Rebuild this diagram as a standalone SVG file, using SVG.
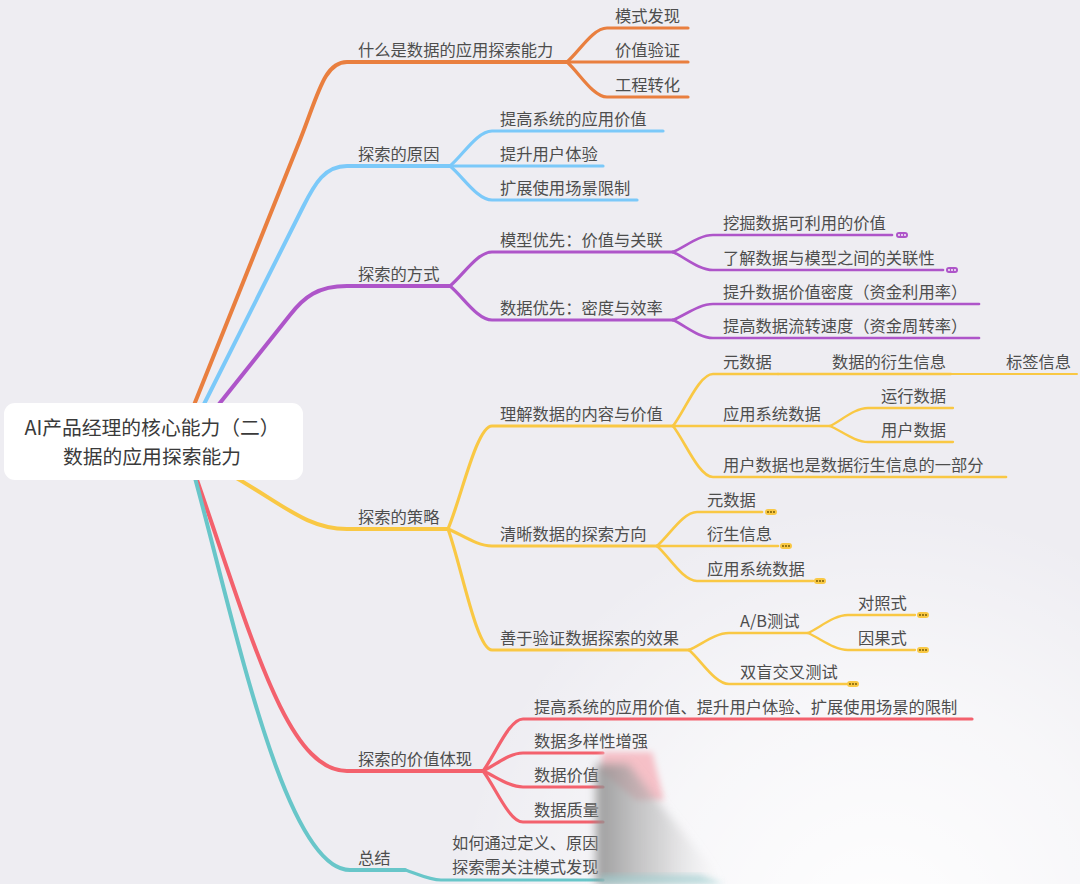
<svg xmlns="http://www.w3.org/2000/svg" width="1080" height="884" viewBox="0 0 1080 884">
<defs>
<style>
.t{font-family:"Noto Sans CJK SC","Noto Sans",sans-serif;font-size:16.3px;fill:#4d4d4d}
.rt{font-family:"Noto Sans CJK SC","Noto Sans",sans-serif;font-size:19.8px;fill:#3a3a3a;text-anchor:middle}
.c{fill:none;stroke-linecap:round;stroke-linejoin:round}
.l1{stroke-width:4}
.l2{stroke-width:3.2}
.l3{stroke-width:2.7}
.l4{stroke-width:2.3}
.l5{stroke-width:2}
.o{stroke:#E97F3F}.b{stroke:#7BC9F9}.p{stroke:#AE55C9}.y{stroke:#F9C844}.r{stroke:#F3616D}.g{stroke:#68C6C9}
.pp{fill:#AE55C9}.yp{fill:#F9C844}
.pd{fill:#ffffff}.yd{fill:#6b5200}
</style>
<radialGradient id="fade" cx="880" cy="930" r="430" gradientUnits="userSpaceOnUse">
<stop offset="0" stop-color="#ffffff" stop-opacity="0.95"/>
<stop offset="0.55" stop-color="#ffffff" stop-opacity="0.55"/>
<stop offset="1" stop-color="#ffffff" stop-opacity="0"/>
</radialGradient>
<linearGradient id="smudge" x1="598" y1="0" x2="720" y2="0" gradientUnits="userSpaceOnUse">
<stop offset="0" stop-color="#8f8f8f" stop-opacity="0.85"/>
<stop offset="0.5" stop-color="#b0b0b0" stop-opacity="0.5"/>
<stop offset="1" stop-color="#d8d8d8" stop-opacity="0"/>
</linearGradient>
<filter id="blur" x="-30%" y="-30%" width="160%" height="160%"><feGaussianBlur stdDeviation="5"/></filter>
<filter id="blur2" x="-30%" y="-30%" width="160%" height="160%"><feGaussianBlur stdDeviation="3"/></filter>
</defs>
<rect x="0" y="0" width="1080" height="884" fill="#EEEDF2"/>
<rect x="0" y="0" width="1080" height="884" fill="url(#fade)"/>

<g id="connectors">
<path class="c l1 o" d="M184 430 L300 140 C318 95 324 62 347 62 H567"/>
<path class="c l1 b" d="M190 432 L303 207 C315 183 325 166 347 166 H450"/>
<path class="c l1 p" d="M196 433 L290 315 C304 297 318 286 347 286 H450"/>
<path class="c l1 y" d="M203 460 C275 495 300 529 347 529 H448"/>
<path class="c l1 r" d="M190 460 C250 630 285 771 347 771 H483"/>
<path class="c l1 g" d="M190 460 C230 600 282 870 350 870 H405"/>
<path class="c l2 o" d="M567 62 C579 51.8 593 28 607 28 H688"/>
<path class="c l2 o" d="M567 62 H688"/>
<path class="c l2 o" d="M567 62 C579 72.5 593 97 607 97 H688"/>
<path class="c l2 b" d="M450 166 C462.6 155.5 477.3 131 492 131 H663"/>
<path class="c l2 b" d="M450 166 H603"/>
<path class="c l2 b" d="M450 166 C462.6 176.2 477.3 200 492 200 H637"/>
<path class="c l2 p" d="M450 286 C462.6 275.8 477.3 252 492 252 H673"/>
<path class="c l2 p" d="M450 286 C462.6 296.2 477.3 320 492 320 H673"/>
<path class="c l3 p" d="M673 252 C685 246.9 699 235 713 235 H892"/>
<path class="c l3 p" d="M673 252 C685 257.4 699 270 713 270 H943"/>
<path class="c l3 p" d="M673 320 C685 315.2 699 304 713 304 H979"/>
<path class="c l3 p" d="M673 320 C685 325.4 699 338 713 338 H979"/>
<path class="c l2 y" d="M448 529 C461.2 498.1 476.6 426 492 426 H673"/>
<path class="c l2 y" d="M448 529 C461.2 534.1 476.6 546 492 546 H657"/>
<path class="c l2 y" d="M448 529 C461.2 565.3 476.6 650 492 650 H689"/>
<path class="c l3 y" d="M673 426 C685 410.4 699 374 713 374 H778"/>
<path class="c l4 y" d="M778 374 H951"/>
<path class="c l5 y" d="M951 374 H1077"/>
<path class="c l3 y" d="M673 426 H830"/>
<path class="c l3 y" d="M673 426 C685 441.3 699 477 713 477 H1006"/>
<path class="c l4 y" d="M830 426 C841.4 420.6 854.7 408 868 408 H953"/>
<path class="c l4 y" d="M830 426 C841.4 430.8 854.7 442 868 442 H953"/>
<path class="c l3 y" d="M657 546 C669 535.8 683 512 697 512 H762"/>
<path class="c l3 y" d="M657 546 H778"/>
<path class="c l3 y" d="M657 546 C669 556.5 683 581 697 581 H813"/>
<path class="c l3 y" d="M689 650 C701 644.9 715 633 729 633 H808"/>
<path class="c l3 y" d="M689 650 C701 660.2 715 684 729 684 H847"/>
<path class="c l4 y" d="M808 633 C820 627.6 834 615 848 615 H915"/>
<path class="c l4 y" d="M808 633 C820 638.1 834 650 848 650 H915"/>
<path class="c l2 r" d="M483 771 C495 755.4 509 719 523 719 H972"/>
<path class="c l2 r" d="M483 771 C495 765.6 509 753 523 753 H603"/>
<path class="c l2 r" d="M483 771 C495 775.8 509 787 523 787 H603"/>
<path class="c l2 r" d="M483 771 C495 786.3 509 822 523 822 H603"/>
<path class="c l2 g" d="M405 870 C415.8 873 428.4 880 441 880 H603"/>
</g>

<g id="root">
<rect x="4" y="403" width="299" height="77" rx="11" fill="#ffffff"/>
<text class="rt" x="152" y="435">AI产品经理的核心能力（二）</text>
<text class="rt" x="152" y="463.5">数据的应用探索能力</text>
</g>

<g id="n-what">
<text class="t" x="358" y="55.5">什么是数据的应用探索能力</text>
<text class="t" x="615" y="21.5">模式发现</text>
<text class="t" x="615" y="55.5">价值验证</text>
<text class="t" x="615" y="90.5">工程转化</text>
</g>

<g id="n-reason">
<text class="t" x="358" y="159.5">探索的原因</text>
<text class="t" x="500" y="124.5">提高系统的应用价值</text>
<text class="t" x="500" y="159.5">提升用户体验</text>
<text class="t" x="500" y="193.5">扩展使用场景限制</text>
</g>

<g id="n-way">
<text class="t" x="358" y="279.5">探索的方式</text>
<text class="t" x="500" y="245.5">模型优先：价值与关联</text>
<text class="t" x="500" y="313.5">数据优先：密度与效率</text>
<text class="t" x="723" y="228.5">挖掘数据可利用的价值</text>
<text class="t" x="723" y="263.5">了解数据与模型之间的关联性</text>
<text class="t" x="723" y="297.5">提升数据价值密度（资金利用率）</text>
<text class="t" x="723" y="331.5">提高数据流转速度（资金周转率）</text>
<rect class="pp" x="896" y="232" width="12" height="6" rx="3"/>
<circle class="pd" cx="899" cy="235" r="0.9"/><circle class="pd" cx="902" cy="235" r="0.9"/><circle class="pd" cx="905" cy="235" r="0.9"/>
<rect class="pp" x="946" y="267" width="12" height="6" rx="3"/>
<circle class="pd" cx="949" cy="270" r="0.9"/><circle class="pd" cx="952" cy="270" r="0.9"/><circle class="pd" cx="955" cy="270" r="0.9"/>
</g>

<g id="n-strategy">
<text class="t" x="358" y="522.5">探索的策略</text>
<text class="t" x="500" y="419.5">理解数据的内容与价值</text>
<text class="t" x="723" y="367.5">元数据</text>
<text class="t" x="832" y="367.5">数据的衍生信息</text>
<text class="t" x="1006" y="367.5">标签信息</text>
<text class="t" x="723" y="419.5">应用系统数据</text>
<text class="t" x="881" y="401.5">运行数据</text>
<text class="t" x="881" y="435.5">用户数据</text>
<text class="t" x="723" y="470.5">用户数据也是数据衍生信息的一部分</text>
<text class="t" x="500" y="539.5">清晰数据的探索方向</text>
<text class="t" x="707" y="505.5">元数据</text>
<text class="t" x="707" y="539.5">衍生信息</text>
<text class="t" x="707" y="574.5">应用系统数据</text>
<text class="t" x="500" y="643.5">善于验证数据探索的效果</text>
<text class="t" x="740" y="626.5">A/B测试</text>
<text class="t" x="858" y="608.5">对照式</text>
<text class="t" x="858" y="643.5">因果式</text>
<text class="t" x="740" y="677.5">双盲交叉测试</text>
<rect class="yp" x="765" y="509" width="12" height="6" rx="3"/>
<circle class="yd" cx="768" cy="512" r="0.9"/><circle class="yd" cx="771" cy="512" r="0.9"/><circle class="yd" cx="774" cy="512" r="0.9"/>
<rect class="yp" x="780" y="543" width="12" height="6" rx="3"/>
<circle class="yd" cx="783" cy="546" r="0.9"/><circle class="yd" cx="786" cy="546" r="0.9"/><circle class="yd" cx="789" cy="546" r="0.9"/>
<rect class="yp" x="814" y="578" width="12" height="6" rx="3"/>
<circle class="yd" cx="817" cy="581" r="0.9"/><circle class="yd" cx="820" cy="581" r="0.9"/><circle class="yd" cx="823" cy="581" r="0.9"/>
<rect class="yp" x="917" y="612" width="12" height="6" rx="3"/>
<circle class="yd" cx="920" cy="615" r="0.9"/><circle class="yd" cx="923" cy="615" r="0.9"/><circle class="yd" cx="926" cy="615" r="0.9"/>
<rect class="yp" x="917" y="647" width="12" height="6" rx="3"/>
<circle class="yd" cx="920" cy="650" r="0.9"/><circle class="yd" cx="923" cy="650" r="0.9"/><circle class="yd" cx="926" cy="650" r="0.9"/>
<rect class="yp" x="847" y="681" width="12" height="6" rx="3"/>
<circle class="yd" cx="850" cy="684" r="0.9"/><circle class="yd" cx="853" cy="684" r="0.9"/><circle class="yd" cx="856" cy="684" r="0.9"/>
</g>

<g id="n-value">
<text class="t" x="358" y="764.5">探索的价值体现</text>
<text class="t" x="534" y="712.5">提高系统的应用价值、提升用户体验、扩展使用场景的限制</text>
<text class="t" x="534" y="746.5">数据多样性增强</text>
<text class="t" x="534" y="780.5">数据价值</text>
<text class="t" x="534" y="815.5">数据质量</text>
</g>

<g id="n-summary">
<text class="t" x="358" y="863.5">总结</text>
<text class="t" x="452" y="848.5">如何通过定义、原因</text>
<text class="t" x="452" y="872.5">探索需关注模式发现</text>
</g>

<g id="smear">
<polygon points="602,752 652,752 664,800 636,800 602,772" fill="#F6C0C7" filter="url(#blur2)"/>
<polygon points="596,764 628,764 724,884 596,884" fill="url(#smudge)" filter="url(#blur)"/>
<polygon points="600,875 700,875 724,884 600,884" fill="#98CDCF" opacity="0.6" filter="url(#blur2)"/>
</g>
</svg>
